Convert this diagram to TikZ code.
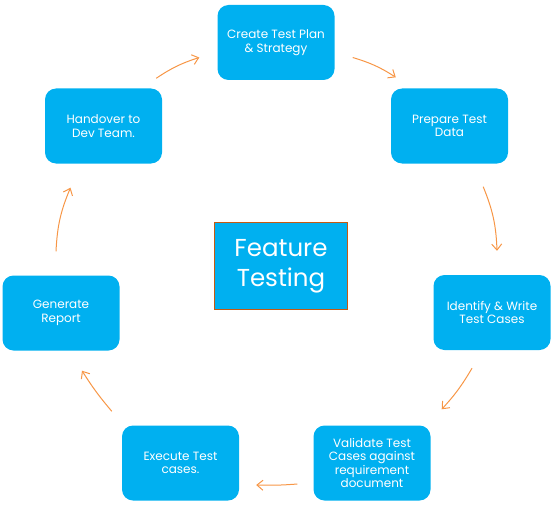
\documentclass[tikz,border=0pt]{standalone}
\usepackage{fontspec}
\setmainfont{Poppins}
\usepackage{tikz}
\usetikzlibrary{arrows.meta,positioning,calc}
\definecolor{ftblue}{HTML}{00B0F0}
\definecolor{ftorange}{HTML}{F79646}
\definecolor{ftbrown}{HTML}{C55A11}
\tikzset{
  cyclearrow/.style={-{Straight Barb[length=6pt,width=10pt]}, line width=1pt, draw=ftorange},
  stepbox/.style={fill=ftblue, rounded corners=11pt, text=white, align=center,
    minimum width=117pt, minimum height=75pt, inner sep=2pt,
    font=\fontsize{12}{13.5}\selectfont},
  hubbox/.style={fill=ftblue, draw=ftbrown, line width=1.6pt, text=white, align=center,
    minimum width=133pt, minimum height=87pt,
    font=\fontsize{24.5}{30}\selectfont}
}
\begin{document}
\begin{tikzpicture}[x=1pt,y=1pt]
        \useasboundingbox (0,0) rectangle (556,-508);
        \node[hubbox] (hub) at (281,-266) {Feature\\Testing};

        \node[stepbox] (plan) at (276,-42.5) {Create Test Plan\\\& Strategy};
        \node[stepbox] (data) at (449.5,-126) {Prepare Test\\Data};
        \node[stepbox] (cases) at (492,-312.5) {Identify \& Write\\Test Cases};
        \node[stepbox] (validate) at (372,-463) {Validate Test\\Cases against\\requirement\\document};
        \node[stepbox] (execute) at (180.5,-463) {Execute Test\\cases.};
        \node[stepbox] (report) at (61,-313) {Generate\\Report};
        \node[stepbox] (handover) at (103.5,-126) {Handover to\\Dev Team.};

        \draw[cyclearrow] ([shift={(-6,10)}]handover.north east) to[bend left=8] ([shift={(-18,-15)}]plan.west);
        \draw[cyclearrow] ([shift={(18,-15)}]plan.east) to[bend left=8] ([shift={(5,11)}]data.north west);
        \draw[cyclearrow] ([shift={(-25,-23)}]data.south east) to[bend left=10] ([shift={(5,24)}]cases.north);
        \draw[cyclearrow] ([shift={(-20,-18)}]cases.south) to[bend left=6] ([shift={(11,16)}]validate.north east);
        \draw[cyclearrow] ([shift={(-16,-21)}]validate.west) to[bend left=3] ([shift={(17,-22)}]execute.east);
        \draw[cyclearrow] ([shift={(-10,14)}]execute.north west) to[bend left=4] ([shift={(21,-20)}]report.south);
        \draw[cyclearrow] ([shift={(-5,24)}]report.north) to[bend left=10] ([shift={(-33,-24)}]handover.south);
    \end{tikzpicture}
\end{document}
